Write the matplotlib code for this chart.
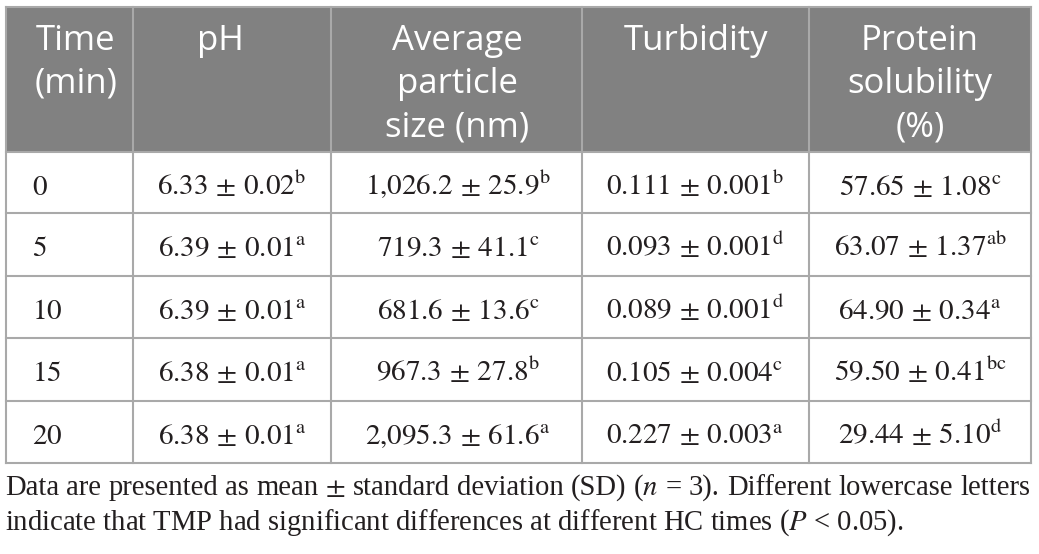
import matplotlib
matplotlib.use("Agg")
import matplotlib.pyplot as plt
from matplotlib.patches import Rectangle

# ---------------- data ----------------
times = [0, 5, 10, 15, 20]
ph_mean = [6.33, 6.39, 6.39, 6.38, 6.38]
ph_sd = [0.02, 0.01, 0.01, 0.01, 0.01]
ph_sig = ["b", "a", "a", "a", "a"]
size_mean = [1026.2, 719.3, 681.6, 967.3, 2095.3]
size_sd = [25.9, 41.1, 13.6, 27.8, 61.6]
size_sig = ["b", "c", "c", "b", "a"]
turb_mean = [0.111, 0.093, 0.089, 0.105, 0.227]
turb_sd = [0.001, 0.001, 0.001, 0.004, 0.003]
turb_sig = ["b", "d", "d", "c", "a"]
sol_mean = [57.65, 63.07, 64.90, 59.50, 29.44]
sol_sd = [1.08, 1.37, 0.34, 0.41, 5.10]
sol_sig = ["c", "ab", "a", "bc", "d"]

headers = [["Time", "(min)"], ["pH"], ["Average", "particle", "size (nm)"],
           ["Turbidity"], ["Protein", "solubility", "(%)"]]
footnote_1 = r"Data are presented as mean $\pm$ standard deviation (SD) ($n$ = 3). Different lowercase letters"
footnote_2 = r"indicate that TMP had significant differences at different HC times ($P$ < 0.05)."

# ---------------- layout ----------------
W, H = 1039, 554
col_edges = [6, 133, 331, 582, 809, 1031]
row_edges = [7, 152, 213, 276, 338, 401, 463]
header_x = [76, 220, 457, 696, 920]
body_x = [32, 232, 458, 695, 920]
header_color = "#818181"
grid_color = "#a9a9a9"

plt.rcParams["mathtext.fontset"] = "stix"

fig = plt.figure(figsize=(W / 100, H / 100), dpi=100)
ax = fig.add_axes([0, 0, 1, 1])
ax.set_xlim(0, W)
ax.set_ylim(H, 0)
ax.axis("off")

# header background
ax.add_patch(Rectangle((col_edges[0], row_edges[0]), col_edges[-1] - col_edges[0],
                       row_edges[1] - row_edges[0], facecolor=header_color,
                       edgecolor="none", zorder=1))
lw = 1.5
for x in col_edges:
    ax.plot([x, x], [row_edges[0], row_edges[-1]], color=grid_color, lw=lw, zorder=2,
            solid_capstyle="projecting")
for y in row_edges:
    ax.plot([col_edges[0], col_edges[-1]], [y, y], color=grid_color, lw=lw, zorder=2,
            solid_capstyle="projecting")

# header text
for ci, lines in enumerate(headers):
    for li, line in enumerate(lines):
        ax.text(header_x[ci], 50 + li * 43, line, color="white", fontsize=25,
                family="Open Sans", ha="center", va="baseline", zorder=3)


def fmt(m, s, sig, nd):
    ms = f"{m:,.{nd}f}".replace(",", "{,}")
    ss = f"{s:,.{nd}f}".replace(",", "{,}")
    return rf"${ms}\,\pm\,{ss}^{{\mathrm{{{sig}}}}}$"


body_size = 21
for ri in range(len(times)):
    base = row_edges[ri + 1] + 43
    cells = [
        f"${times[ri]}$",
        fmt(ph_mean[ri], ph_sd[ri], ph_sig[ri], 2),
        fmt(size_mean[ri], size_sd[ri], size_sig[ri], 1),
        fmt(turb_mean[ri], turb_sd[ri], turb_sig[ri], 3),
        fmt(sol_mean[ri], sol_sd[ri], sol_sig[ri], 2),
    ]
    for ci, c in enumerate(cells):
        ax.text(body_x[ci], base, c, fontsize=body_size, color="#231f20",
                ha="left" if ci == 0 else "center", va="baseline", zorder=3)

# footnote: size the font so that line 1 spans the table width
renderer = fig.canvas.get_renderer()
fn_family = "Liberation Serif"
fs0 = 18
probe = ax.text(5, 495, footnote_1, fontsize=fs0, family=fn_family)
w1 = probe.get_window_extent(renderer).width
probe.remove()
fs = fs0 * 1025 / w1

ax.text(5, 530, footnote_2, fontsize=fs, family=fn_family, color="#231f20",
        ha="left", va="baseline")

# justify line 1 across table width
words = footnote_1.split(" ")
objs = []
total = 0
for w in words:
    t = ax.text(0, 495, w, fontsize=fs, family=fn_family, color="#231f20",
                ha="left", va="baseline")
    ww = t.get_window_extent(renderer).width
    objs.append((t, ww))
    total += ww
avail = 1030 - 5
gap = (avail - total) / (len(words) - 1)
x = 5
for t, ww in objs:
    t.set_x(x)
    x += ww + gap

fig.savefig("out.png", dpi=100)
